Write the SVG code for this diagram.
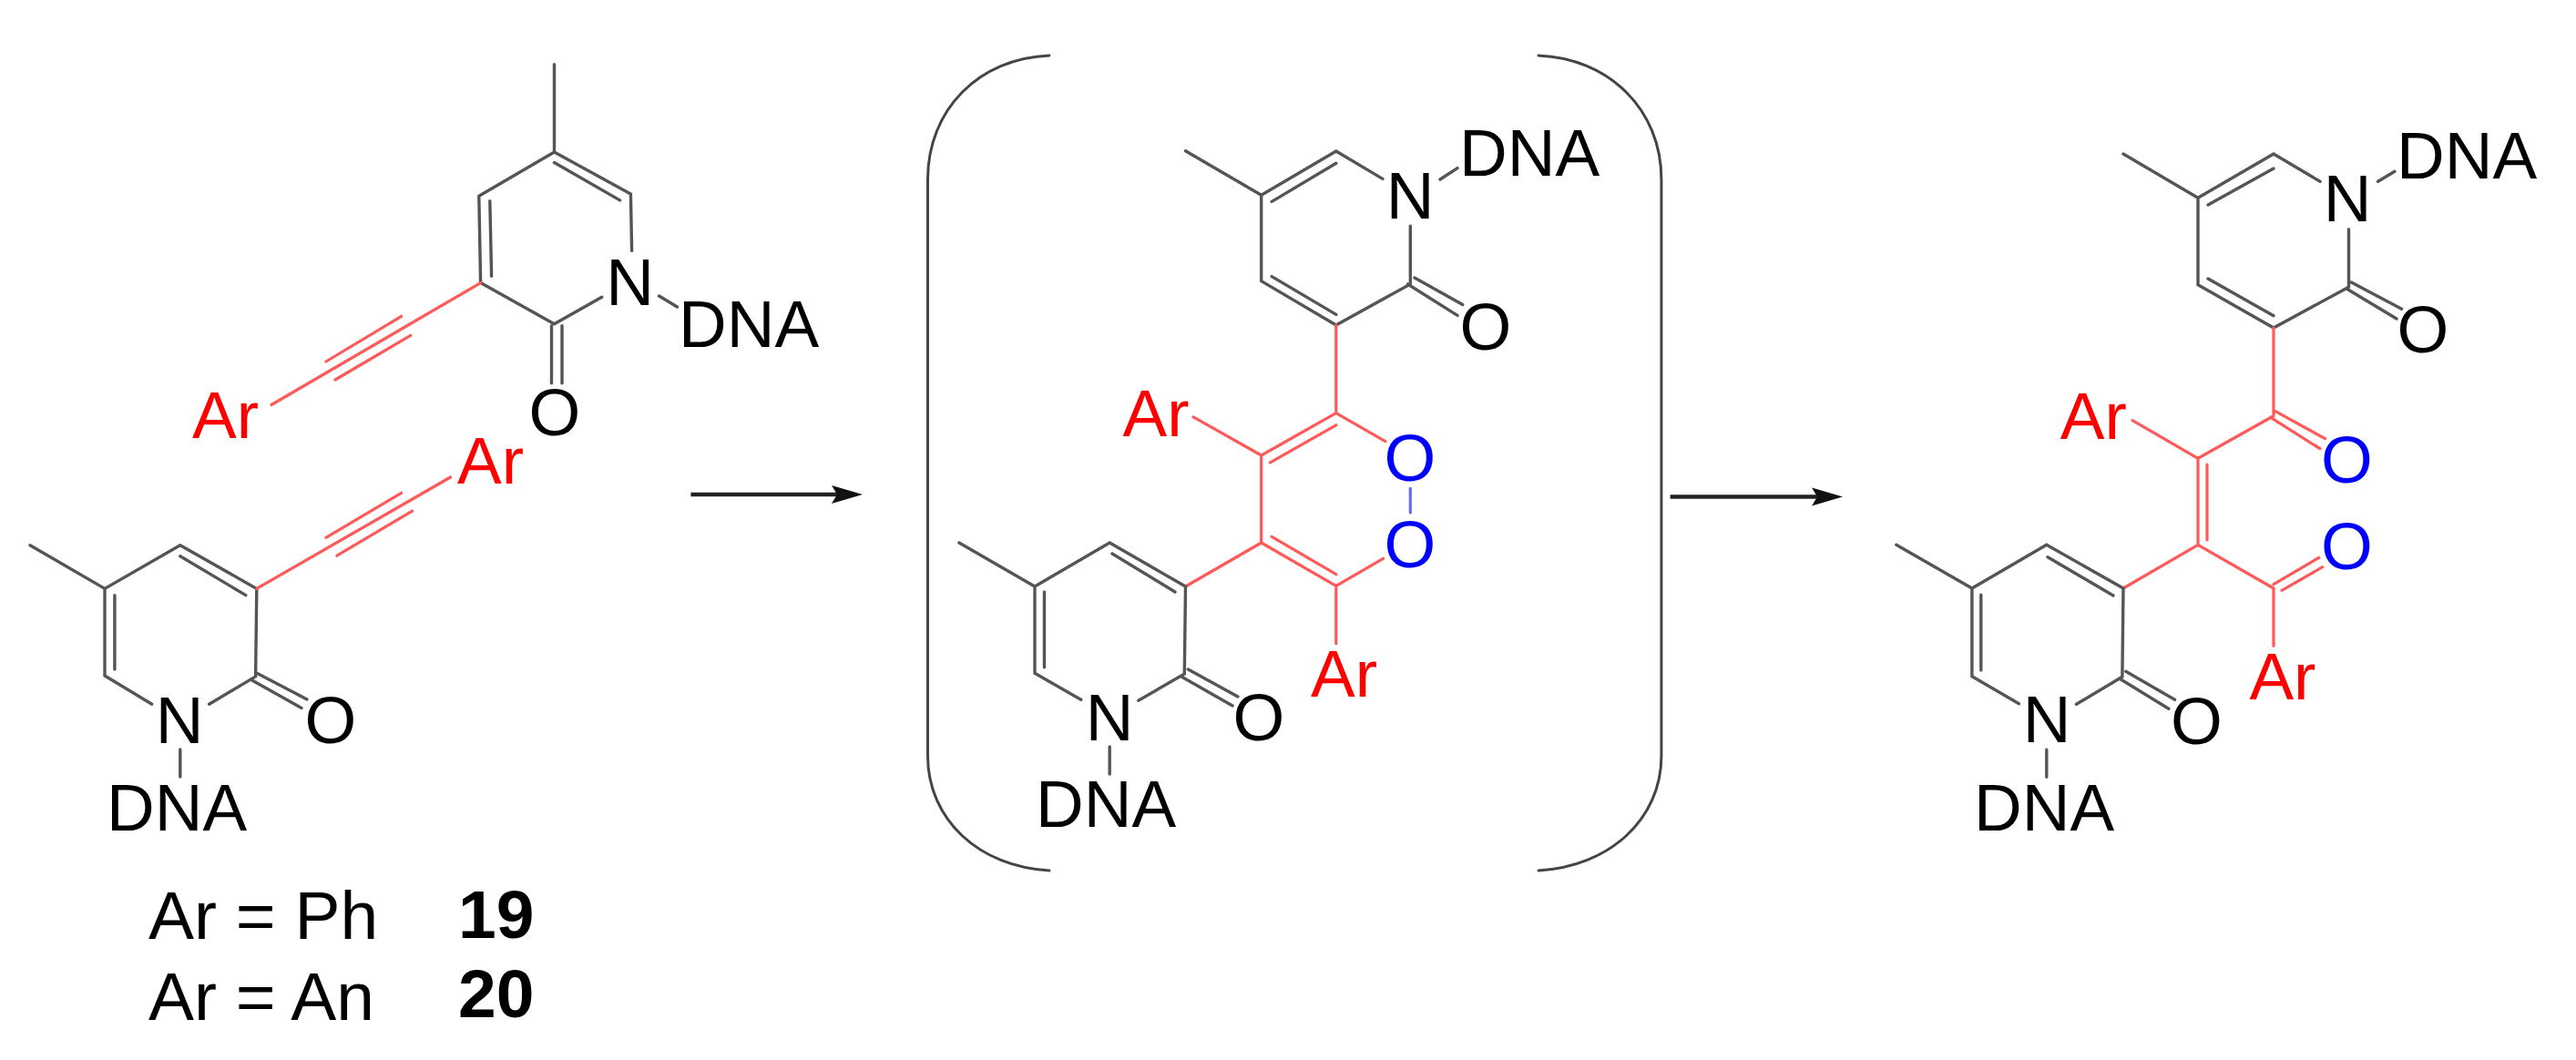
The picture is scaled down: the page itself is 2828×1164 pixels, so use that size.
<svg xmlns="http://www.w3.org/2000/svg" width="2828" height="1164" viewBox="0 0 2828 1164">
<style>
text{font-family:"Liberation Sans",Arial,sans-serif;font-size:73px;fill:#000}
.m{text-anchor:middle}
.r{fill:#f00}
.b{fill:#00f}
.bold{font-weight:bold}
path{fill:none;stroke-linecap:round}
.k{stroke:#555;stroke-width:3.4}
.rb{stroke:#ff5a5a;stroke-width:3.2}
.bb{stroke:#6a6af0;stroke-width:3.2}
.brk{stroke:#444;stroke-width:3}
.arr{stroke:#222;stroke-width:4.5;stroke-linecap:butt}
</style>
<defs>
<marker id="head" markerUnits="userSpaceOnUse" markerWidth="36" markerHeight="24" refX="6" refY="12" orient="auto">
<polygon points="0,2 34,12 0,22 6,12" fill="#111"/>
</marker>
</defs>
<rect width="2828" height="1164" fill="#fff"/>

<g id="mol-top-left">
<path class="k" d="M608.5 70.6V167L692.4 213L693.6 275.4M608.5 167L525.8 215.3L527.6 310.6L608.5 355.7L660.7 326.3M608.5 178.5L680.5 219.9M537.8 220.6L539.6 303.3M723.6 325L743.4 337M605.5 357.6V420.8M617 357.6V420.8"/>
<path class="rb" d="M527.6 310.6L298 444.5M440.6 347.3L357.9 397M450.8 368.4L368 417"/>
<text class="m" x="691.5" y="334.7">N</text>
<text x="745" y="381.4">DNA</text>
<text class="m" x="609" y="478">O</text>
<text class="r" x="211" y="480.9">Ar</text>
</g>

<g id="mol-bottom-left">
<path class="k" d="M33 598.7L115 646.4L197.8 598.7L281.8 646.4L280.6 742.9L229.6 773.2M115 646.4V742L166.7 773.2M197.8 610.7L269.8 653.6M125.9 653.6V735M197.8 823V853M280.6 738.6L337 767.9M275.8 746.4L331 777.5"/>
<path class="rb" d="M281.8 646.4L494.6 524M440.6 541.3L357.9 590.3M452.6 561.2L369.9 610.2"/>
<text class="r" x="502" y="530.6">Ar</text>
<text class="m" x="197" y="816">N</text>
<text class="m" x="363" y="816">O</text>
<text x="117" y="911.8">DNA</text>
</g>

<g id="legend">
<text x="163" y="1031.4" font-size="75" style="font-size:75px">Ar = Ph</text>
<text class="bold" x="503" y="1030" style="font-size:75px">19</text>
<text x="163" y="1119.6" style="font-size:75px">Ar = An</text>
<text class="bold" x="503" y="1117" style="font-size:75px">20</text>
</g>

<g id="bracket">
<path class="brk" d="M1152 61C1075 64 1018.5 120 1018.5 197V830C1018.5 900 1075 952 1152 956"/>
<path class="brk" d="M1689 61C1766 64 1823.9 120 1823.9 197V830C1823.9 900 1766 952 1689 956"/>
</g>

<g id="mol-intermediate">
<path class="k" d="M1301.5 165.7L1384.7 214.3L1466.8 166L1517.9 196.4M1396.2 221.4L1466.8 179.3M1384.7 214.3V308.6L1466.8 357L1548.3 312V248.2M1396.2 303.6L1466.8 345.4M1581 197L1600 184.6M1552.9 305L1605.7 334.6M1545.4 312L1600 346.4"/>
<path class="rb" d="M1466.8 357V453.6L1384.7 500V596L1466.8 643.3L1518.5 613.3M1394.5 507.9L1466.8 466.8M1466.8 453.6L1520.8 484.6M1310 457.9L1384.7 500M1396.2 589.3L1466.8 630.7M1466.8 643.3V706.7M1384.7 596L1301.5 644"/>
<path class="bb" d="M1548.3 536.4V563"/>
<path class="k" d="M1301.5 644L1218.2 596L1136 644L1052.9 596M1136 644V739.3L1186.7 768.3M1301.5 644L1300.3 740L1249.8 769.3M1221 608L1290 650M1146.5 650V732.7M1218.2 820V850M1304.3 735L1358.9 765M1297.4 743.3L1353.1 775"/>
<text class="m" x="1548" y="240">N</text>
<text x="1602" y="192.9">DNA</text>
<text class="m" x="1631" y="383.6">O</text>
<text class="b m" x="1548" y="527.5">O</text>
<text class="b m" x="1548" y="622.7">O</text>
<text class="r" x="1232.6" y="479.3">Ar</text>
<text class="r" x="1439" y="765">Ar</text>
<text class="m" x="1218" y="813.3">N</text>
<text x="1137" y="908.3">DNA</text>
<text class="m" x="1382" y="813.3">O</text>
</g>

<g id="mol-product">
<path class="k" d="M2331 169L2413 217.3L2496 169L2547 199.3M2424 225L2496 185M2413 217.3V312.7L2496 360L2575.7 316.7L2578.5 315V251.7M2424 306L2496 346.7M2610.6 199.3L2628.9 188.3M2581.3 310L2636.6 339.3M2575.7 316.7L2631 350"/>
<path class="rb" d="M2496 360V456.7L2413 503.3V598.3L2331 646M2498 451.7L2552.5 481.7M2492.7 458.3L2547 492.7M2341 461.7L2413 503.3M2423 510V593M2413 598.3L2496 646V709.3M2496 641.7L2545.8 612.3M2505 648.3L2549.7 622.7"/>
<path class="k" d="M2331 646L2246.8 598.3L2164.9 646L2081.8 598.3M2164.9 646V742.7L2216.4 772.7M2331 646L2329.9 743.3L2279.5 773.3M2248 611.7L2320 654M2174.8 653.3V736M2246.8 823.3V853.3M2333.8 737.3L2387.5 768.3M2326.6 745L2380.8 778.3"/>
<text class="m" x="2577" y="243.3">N</text>
<text x="2631" y="196">DNA</text>
<text class="m" x="2660" y="386.7">O</text>
<text class="b m" x="2576.5" y="530">O</text>
<text class="b m" x="2576.5" y="625">O</text>
<text class="r" x="2261.8" y="481.7">Ar</text>
<text class="r" x="2469.4" y="768.3">Ar</text>
<text class="m" x="2247" y="815">N</text>
<text x="2167" y="911.7">DNA</text>
<text class="m" x="2411.5" y="816.7">O</text>
</g>

<g id="connectors">
<path class="arr" d="M758.4 543H919" marker-end="url(#head)"/>
<path class="arr" d="M1833.6 545.5H1995" marker-end="url(#head)"/>
</g>
</svg>
